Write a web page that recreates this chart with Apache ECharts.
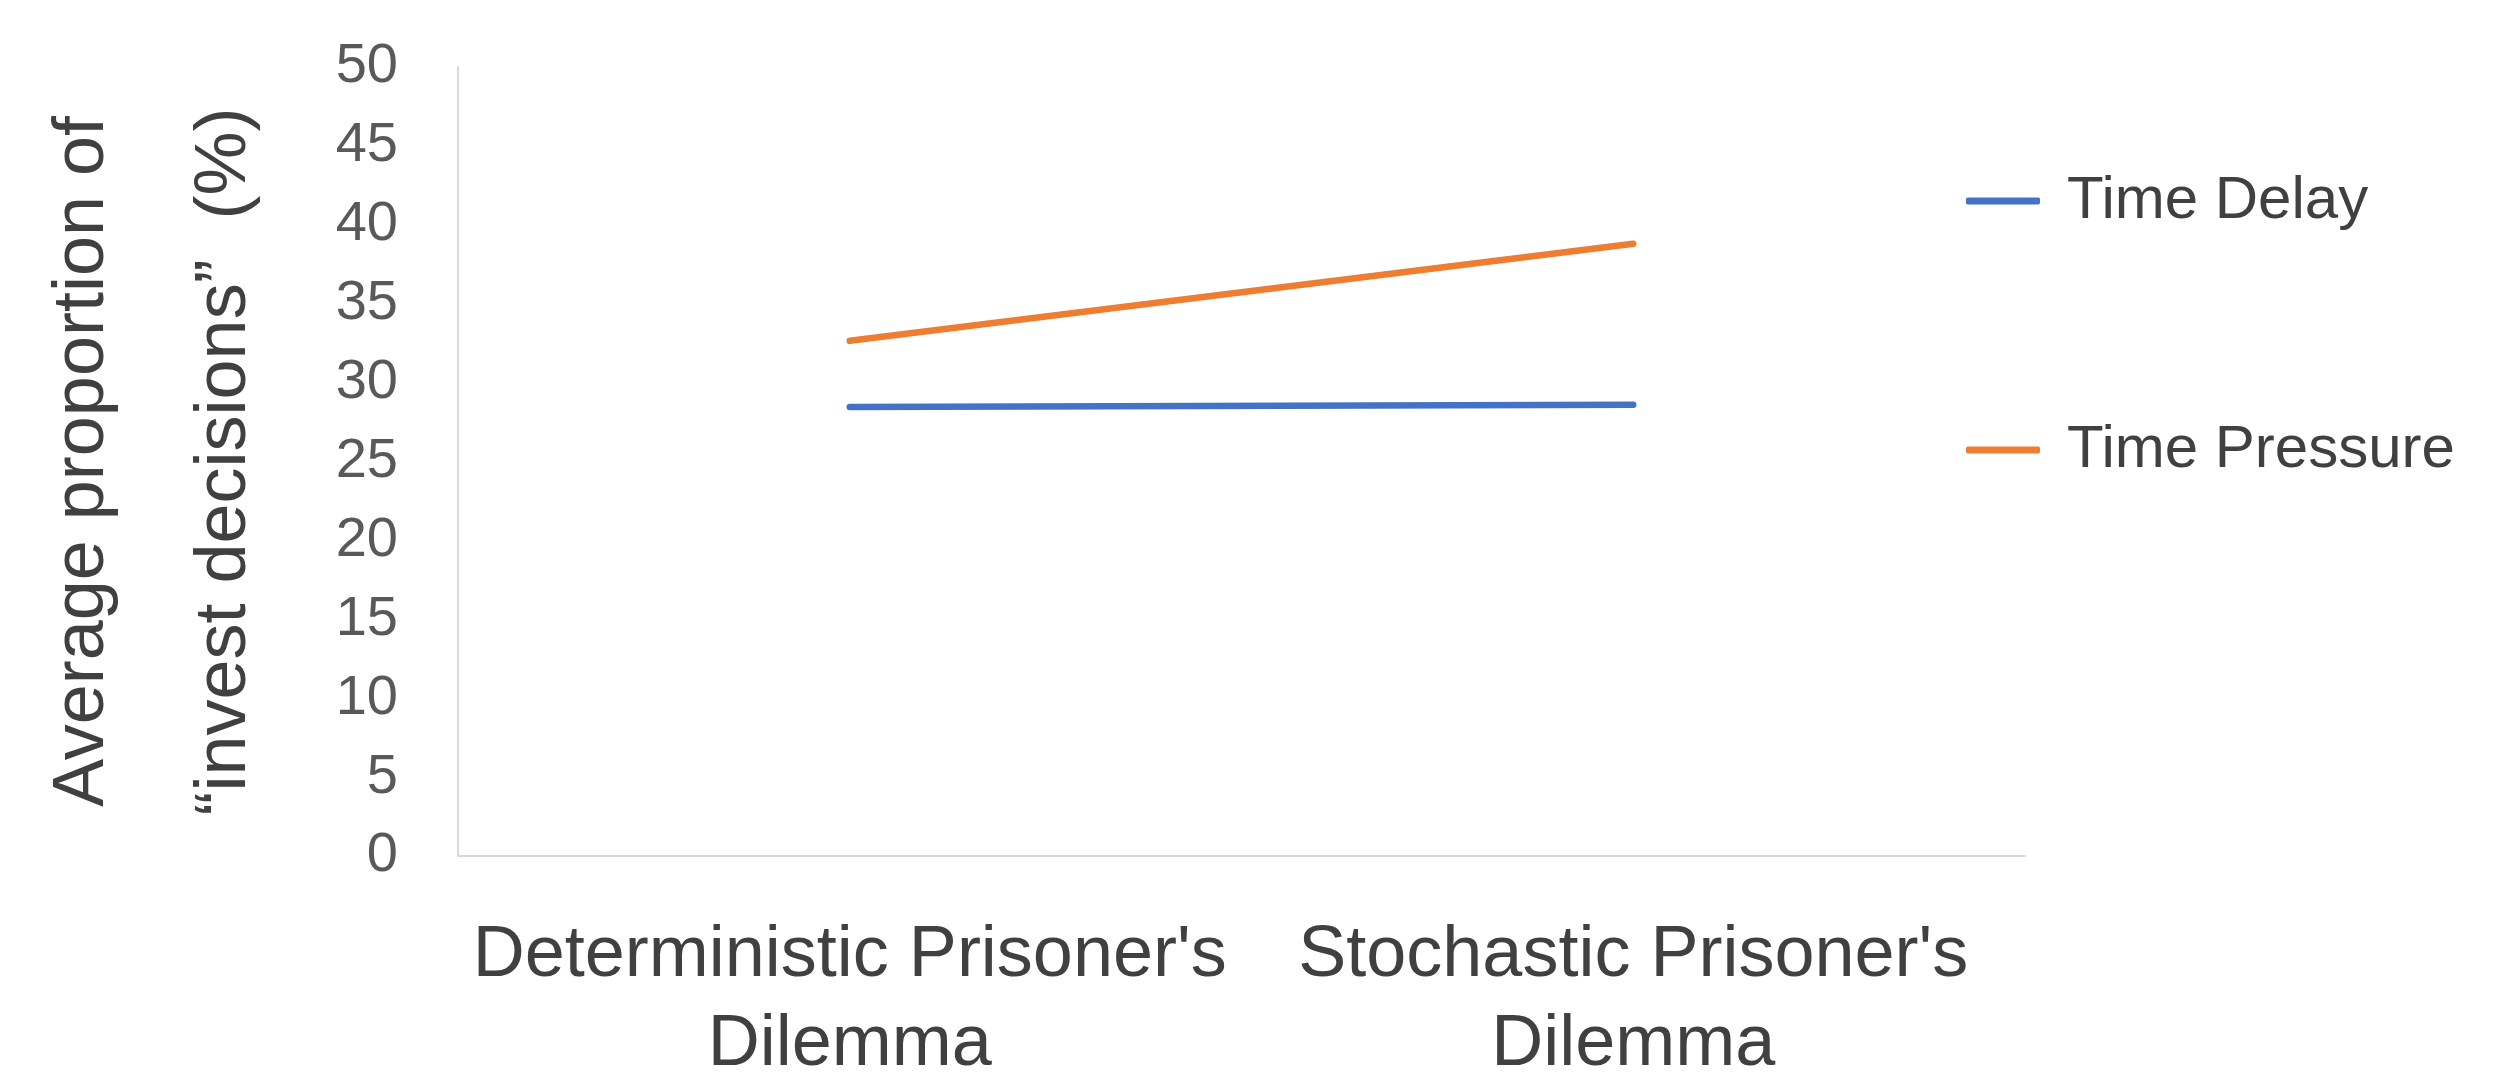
<!DOCTYPE html>
<html>
<head>
<meta charset="utf-8">
<script src="https://cdn.jsdelivr.net/npm/echarts@6/dist/echarts.min.js"></script>
<style>html,body{margin:0;padding:0;background:#fff}#c{width:2516px;height:1080px}</style>
</head>
<body>
<div id="c"></div>
<script>
const categories = ["Deterministic Prisoner's\nDilemma", "Stochastic Prisoner's\nDilemma"];
const timeDelay = [28.45, 28.6];
const timePressure = [32.65, 38.8];
const yTicks = { min: 0, max: 50, interval: 5 };
const yTitle = "Average proportion of\n\u201cinvest decisions\u201d\u00a0\u00a0(%)";

const chart = echarts.init(document.getElementById('c'), null, { renderer: 'canvas' });
const font = 'Liberation Sans, Arial, sans-serif';
chart.setOption({
  animation: false,
  backgroundColor: '#ffffff',
  grid: { left: 458, right: 491, top: 67, bottom: 224, containLabel: false, outerBoundsMode: 'none' },
  legend: {
    orient: 'vertical',
    left: 1961,
    top: 166,
    itemWidth: 74,
    itemHeight: 7,
    itemGap: 189,
    icon: 'roundRect',
    textStyle: { fontFamily: font, fontSize: 60, color: '#404040', lineHeight: 60, padding: [0, 0, 0, 22] },
    data: ['Time Delay', 'Time Pressure']
  },
  xAxis: {
    type: 'category',
    data: categories,
    boundaryGap: true,
    axisLine: { show: true, lineStyle: { color: '#D9D9D9', width: 2 } },
    axisTick: { show: false },
    axisLabel: { fontFamily: font, fontSize: 72, color: '#404040', lineHeight: 89, margin: 56, interval: 0 }
  },
  yAxis: {
    type: 'value',
    min: yTicks.min, max: yTicks.max, interval: yTicks.interval,
    axisLine: { show: true, lineStyle: { color: '#D9D9D9', width: 2 } },
    axisTick: { show: false },
    splitLine: { show: false },
    axisLabel: { fontFamily: font, fontSize: 56, color: '#595959', margin: 60 },
    name: yTitle,
    nameLocation: 'middle',
    nameRotate: 90,
    nameGap: 162,
    nameTextStyle: { fontFamily: font, fontSize: 72, color: '#404040', lineHeight: 142 }
  },
  series: [
    { name: 'Time Delay', type: 'line', data: timeDelay, showSymbol: false, symbol: 'none',
      color: '#4472C4', lineStyle: { color: '#4472C4', width: 6.5, cap: 'round' } },
    { name: 'Time Pressure', type: 'line', data: timePressure, showSymbol: false, symbol: 'none',
      color: '#ED7D31', lineStyle: { color: '#ED7D31', width: 6.5, cap: 'round' } }
  ]
});
</script>
</body>
</html>
